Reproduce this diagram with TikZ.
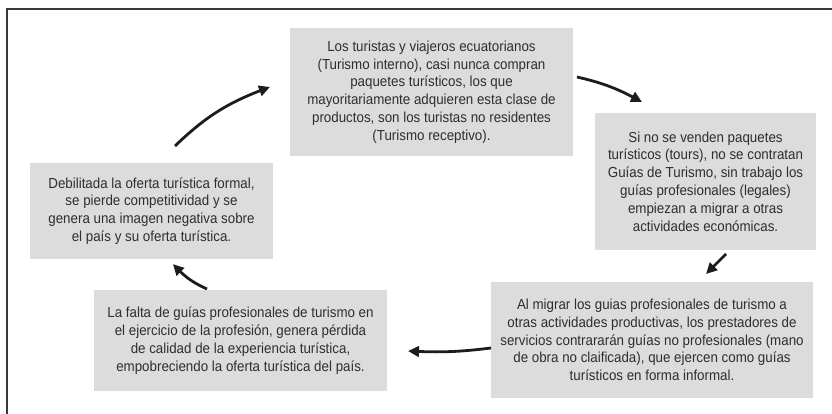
\documentclass[tikz,border=0pt]{standalone}
\usepackage{fontspec}
\setmainfont{Liberation Sans}[FakeStretch=0.92]
\usetikzlibrary{arrows.meta,bending}
\definecolor{boxgray}{HTML}{DCDCDD}
\definecolor{txtgray}{HTML}{2E2E2E}
\definecolor{arrgray}{HTML}{1C1C1C}
\definecolor{framegray}{HTML}{3A3A3A}
\begin{document}
\begin{tikzpicture}[x=1pt,y=-1pt,
  card/.style={fill=boxgray, text=txtgray, align=center, inner sep=0pt,
    font=\fontsize{14.5}{17.8}\selectfont},
  flow/.style={draw=arrgray, line width=2.8pt,
    -{Triangle[length=11pt,width=10.5pt,bend]}}]
\useasboundingbox (0,0) rectangle (832,414);
\fill[white] (0,0) rectangle (832,414);
\begin{scope}
\clip (0,0) rectangle (832,414);
\draw[framegray, line width=2pt] (6.5,9.5) rectangle (845,430);
\end{scope}

\node[card, minimum width=283pt, minimum height=128pt] (top) at (431.5,92)
  {Los turistas y viajeros ecuatorianos\\(Turismo interno), casi nunca compran\\paquetes turísticos, los que\\mayoritariamente adquieren esta clase de\\productos, son los turistas no residentes\\(Turismo receptivo).};
\node[card, minimum width=221pt, minimum height=137pt] (right) at (705.5,181.5)
  {Si no se venden paquetes\\turísticos (tours), no se contratan\\Guías de Turismo, sin trabajo los\\guías profesionales (legales)\\empiezan a migrar a otras\\actividades económicas.};
\node[card, minimum width=322pt, minimum height=116pt] (botright) at (652,340)
  {Al migrar los guias profesionales de turismo a\\otras actividades productivas, los prestadores de\\servicios contrararán guías no profesionales (mano\\de obra no claificada), que ejercen como guías\\turísticos en forma informal.};
\node[card, minimum width=293pt, minimum height=101pt] (botleft) at (240.5,340.5)
  {La falta de guías profesionales de turismo en\\el ejercicio de la profesión, genera pérdida\\de calidad de la experiencia turística,\\empobreciendo la oferta turística del país.};
\node[card, minimum width=243pt, minimum height=96pt] (left) at (151.5,211)
  {Debilitada la oferta turística formal,\\se pierde competitividad y se\\genera una imagen negativa sobre\\el país y su oferta turística.};

\coordinate (a1s) at (577,77);   \coordinate (a1e) at (642,102);
\coordinate (a2s) at (726,254);  \coordinate (a2e) at (706,274);
\coordinate (a3s) at (491,348);  \coordinate (a3e) at (408,351);
\coordinate (a4s) at (207,289);  \coordinate (a4e) at (173,264);
\coordinate (a5s) at (175,146);  \coordinate (a5e) at (270,87);

\draw[flow] (a1s) to[bend left=8] (a1e);
\draw[flow] (a2s) -- (a2e);
\draw[flow] (a3s) to[bend left=5] (a3e);
\draw[flow] (a4s) to[bend left=12] (a4e);
\draw[flow] (a5s) to[bend left=12] (a5e);
\end{tikzpicture}
\end{document}
